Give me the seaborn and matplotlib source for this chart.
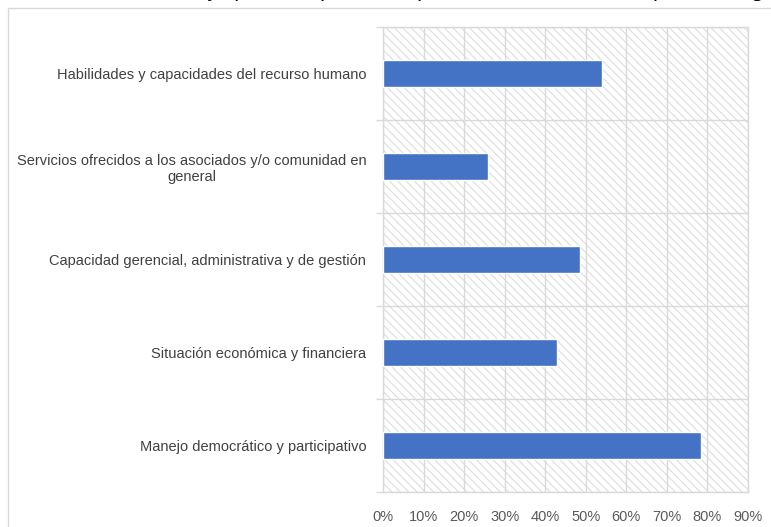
import matplotlib
matplotlib.use('Agg')
import matplotlib.pyplot as plt
import seaborn as sns
from matplotlib.patches import Rectangle
from matplotlib.ticker import FuncFormatter

# data
competencias = ['Habilidades y capacidades del recurso humano',
                'Servicios ofrecidos a los asociados y/o comunidad en\ngeneral',
                'Capacidad gerencial, administrativa y de gestión',
                'Situación económica y financiera',
                'Manejo democrático y participativo']
porcentajes = [0.54, 0.26, 0.485, 0.43, 0.785]
ticks_x = [0.0, 0.1, 0.2, 0.3, 0.4, 0.5, 0.6, 0.7, 0.8, 0.9]
titulo = 'Gráfico 5. Porcentaje por competencia potencial a consolidar por las organizaciones'

sns.set_style('white')
plt.rcParams['font.family'] = ['Liberation Sans', 'DejaVu Sans']

fig = plt.figure(figsize=(7.71, 5.27), dpi=100)
ax = fig.add_axes([383/771, 1 - 492/527, 365/771, 465/527])

# hatched background of the plot area
plt.rcParams['hatch.linewidth'] = 0.7
ax.add_patch(Rectangle((0, 0), 1, 1, transform=ax.transAxes, facecolor='white',
                       edgecolor='#D9D9D9', hatch='\\\\\\\\', lw=0, zorder=0))

sns.barplot(x=porcentajes, y=competencias, orient='h', color='#4472C4',
            width=0.29, saturation=1, ax=ax, zorder=3)

ax.set_xlim(0, 0.9)
ax.set_ylim(4.5, -0.5)
ax.set_xticks(ticks_x)
ax.xaxis.set_major_formatter(FuncFormatter(lambda v, p: f'{v*100:.0f}%'))
ax.set_yticks(range(len(competencias)))
ax.set_yticklabels(competencias, ma='center')
ax.set_yticks([i - 0.5 for i in range(len(competencias) + 1)], minor=True)

ax.grid(axis='x', which='major', color='#D9D9D9', lw=1, zorder=1)
ax.grid(axis='y', which='minor', color='#D9D9D9', lw=1, zorder=1)
ax.set_axisbelow(True)
for s in ax.spines.values():
    s.set_color('#D9D9D9')
    s.set_linewidth(1)

ax.tick_params(axis='x', length=0, pad=13, labelsize=10.5, labelcolor='#595959')
ax.tick_params(axis='y', which='major', length=0, pad=12, labelsize=10.5, labelcolor='#404040')
ax.tick_params(axis='y', which='minor', length=5, width=1, color='#D9D9D9', left=True)
ax.set_xlabel('')
ax.set_ylabel('')

# chart border and clipped title at the top
fig.add_artist(Rectangle((8/771, -0.1), 1.0, 1.1 - 8/527, transform=fig.transFigure,
                         fill=False, edgecolor='#D9D9D9', lw=1))
fig.text(10/771, 1 - 1/527, titulo, fontsize=15, style='italic', va='bottom',
         ha='left', color='black', family='DejaVu Sans')

fig.savefig('out.png', dpi=100)
